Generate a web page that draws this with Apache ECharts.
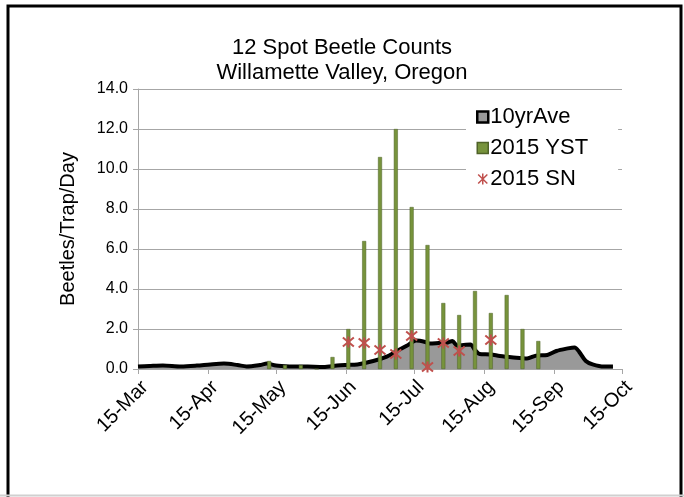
<!DOCTYPE html>
<html>
<head>
<meta charset="utf-8">
<script src="https://cdn.jsdelivr.net/npm/echarts@6/dist/echarts.min.js"></script>
<style>
  html, body { margin: 0; padding: 0; background: #fff; }
  #chart { width: 684px; height: 497px; }
</style>
</head>
<body>
<div id="chart"></div>
<script>
// x positions are dates (month/day, 2015); the axis runs 15-Mar .. 15-Oct
var tickDates = ['3/15', '4/15', '5/15', '6/15', '7/15', '8/15', '9/15', '10/15']
var tickLabels = ['15-Mar', '15-Apr', '15-May', '15-Jun', '15-Jul', '15-Aug', '15-Sep', '15-Oct']

var aveDates = ['3/15', '3/20', '3/26', '4/3', '4/10', '4/16', '4/22', '4/28', '5/2', '5/8',
  '5/11', '5/15', '5/21', '5/29', '6/5', '6/11', '6/15', '6/20', '6/27', '7/3',
  '7/7', '7/12', '7/16', '7/20', '7/22', '7/26', '7/30', '8/1', '8/3', '8/6',
  '8/9', '8/11', '8/13', '8/18', '8/22', '8/28', '9/3', '9/7', '9/12', '9/16',
  '9/21', '9/24', '9/26', '9/29', '10/2', '10/7', '10/11']
var aveValues = [0.12, 0.15, 0.18, 0.13, 0.17, 0.23, 0.27, 0.2, 0.13, 0.2,
  0.27, 0.17, 0.13, 0.12, 0.1, 0.17, 0.2, 0.23, 0.4, 0.62,
  0.87, 1.17, 1.42, 1.35, 1.27, 1.3, 1.33, 1.4, 1.18, 1.2,
  1.22, 0.95, 0.75, 0.73, 0.65, 0.58, 0.53, 0.67, 0.7, 0.9,
  1.03, 1.08, 0.87, 0.4, 0.23, 0.12, 0.12]

var ystDates = ['5/12', '5/19', '5/26', '6/2', '6/9', '6/16', '6/23', '6/30', '7/7', '7/14',
  '7/21', '7/28', '8/4', '8/11', '8/18', '8/25', '9/1', '9/8']
var ystValues = [0.4, 0.2, 0.2, 0, 0.6, 2.0, 6.4, 10.6, 12.0, 8.1,
  6.2, 3.3, 2.7, 3.9, 2.8, 3.7, 2.0, 1.4]

var snDates = ['6/16', '6/23', '6/30', '7/7', '7/14', '7/21', '7/28', '8/4', '8/18']
var snValues = [1.35, 1.3, 0.95, 0.75, 1.65, 0.1, 1.3, 0.9, 1.45]

var FONT = 'Liberation Sans, Arial, sans-serif'
var STAR = 'path://M0,0L10,10M10,0L0,10M5,-1L5,11'

// days since 15-Mar
function dayOf(s) {
  var p = s.split('/')
  return (Date.UTC(2015, +p[0] - 1, +p[1]) - Date.UTC(2015, 2, 15)) / 86400000
}
function pairs(dates, values) {
  return dates.map(function (d, i) { return [dayOf(d), values[i]] })
}

var ticks = tickDates.map(dayOf)

var chart = echarts.init(document.getElementById('chart'))
chart.setOption({
  animation: false,
  textStyle: { fontFamily: FONT },
  graphic: [{
    type: 'rect',
    shape: { x: 8, y: 6, width: 673, height: 500 },
    style: { fill: 'none', stroke: '#000', lineWidth: 3 },
    z: 0
  }, {
    type: 'line',
    shape: { x1: 0, y1: 495.5, x2: 684, y2: 495.5 },
    style: { stroke: '#d0d0d0', lineWidth: 2 }
  }],
  title: {
    text: '12 Spot Beetle Counts\nWillamette Valley, Oregon',
    left: 'center',
    top: 30,
    textStyle: { fontFamily: FONT, fontSize: 22, fontWeight: 'normal', color: '#000', lineHeight: 25 }
  },
  legend: {
    orient: 'vertical',
    left: 466,
    top: 100,
    padding: [6, 30, 6, 10],
    backgroundColor: '#fff',
    itemWidth: 11,
    itemHeight: 11,
    itemGap: 9,
    textStyle: { fontFamily: FONT, fontSize: 22, color: '#000', padding: [0, 0, 0, -3] },
    data: [
      { name: '10yrAve', icon: 'rect', itemStyle: { color: '#999', borderColor: '#000', borderWidth: 2.5 } },
      { name: '2015 YST', icon: 'rect', itemStyle: { color: '#77933c', borderColor: '#4f6228', borderWidth: 1.5 } },
      { name: '2015 SN', icon: STAR, itemStyle: { color: 'transparent', borderColor: '#c0504d', borderWidth: 1.5 } }
    ]
  },
  grid: { left: 138, right: 62, top: 89, bottom: 128 },
  xAxis: {
    type: 'value',
    min: 0,
    max: ticks[ticks.length - 1],
    splitLine: { show: false },
    axisLine: { lineStyle: { color: '#a6a6a6' } },
    axisTick: { customValues: ticks, length: 5, lineStyle: { color: '#a6a6a6' } },
    axisLabel: {
      customValues: ticks,
      rotate: 45,
      margin: 8,
      verticalAlign: 'top',
      fontSize: 20,
      color: '#000',
      fontFamily: FONT,
      formatter: function (v) { return tickLabels[ticks.indexOf(v)] }
    }
  },
  yAxis: {
    type: 'value',
    min: 0,
    max: 14,
    interval: 2,
    name: 'Beetles/Trap/Day',
    nameLocation: 'middle',
    nameGap: 60,
    nameTextStyle: { fontFamily: FONT, fontSize: 20, color: '#000' },
    axisLine: { show: true, lineStyle: { color: '#a6a6a6' } },
    axisTick: { show: true, length: 5, lineStyle: { color: '#a6a6a6' } },
    splitLine: { lineStyle: { color: '#a6a6a6' } },
    axisLabel: {
      fontSize: 16,
      color: '#000',
      margin: 10,
      fontFamily: FONT,
      formatter: function (v) { return v.toFixed(1) }
    }
  },
  series: [{
    name: '10yrAve',
    type: 'line',
    data: pairs(aveDates, aveValues),
    showSymbol: false,
    smooth: 0.3,
    lineStyle: { color: '#000', width: 4 },
    itemStyle: { color: '#000' },
    areaStyle: { color: '#999', opacity: 1 },
    z: 2
  }, {
    name: '2015 YST',
    type: 'bar',
    data: pairs(ystDates, ystValues),
    barWidth: 4,
    itemStyle: { color: '#77933c', borderColor: '#4f6228', borderWidth: 0.5 },
    z: 3
  }, {
    name: '2015 SN',
    type: 'scatter',
    data: pairs(snDates, snValues),
    symbol: STAR,
    symbolSize: 11,
    itemStyle: { color: 'transparent', borderColor: '#c0504d', borderWidth: 2, opacity: 1 },
    z: 4
  }]
})
</script>
</body>
</html>
